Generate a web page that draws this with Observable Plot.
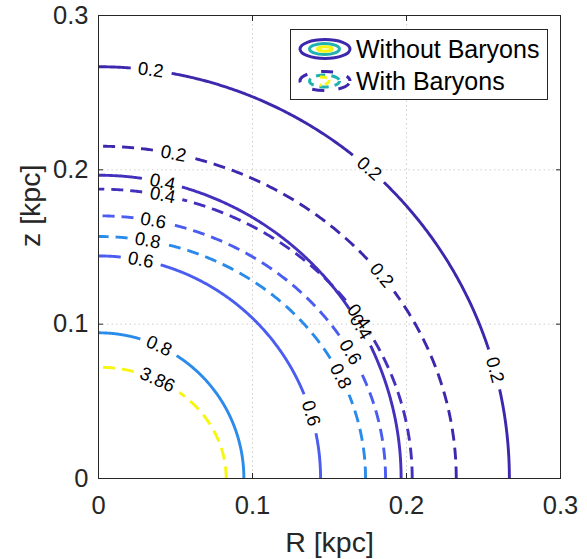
<!DOCTYPE html>
<html><head><meta charset="utf-8">
<script src="https://cdn.jsdelivr.net/npm/d3@7"></script>
<script src="https://cdn.jsdelivr.net/npm/@observablehq/plot@0.6"></script>
<style>
body{margin:0;background:#fff;font-family:"Liberation Sans",Arial,sans-serif;}
#wrap{position:relative;width:587px;height:559px;}
#legend{position:absolute;left:290px;top:29px;width:256px;height:69px;border:1px solid #262626;background:#fff;}
</style></head><body><div id="wrap"></div>
<script>
// ---- data ----
const solidLevels = ["0.2", "0.4", "0.6", "0.8"];
const solidRadius = [0.2668, 0.1965, 0.1442, 0.0944];
const solidColors = ["#3d28ad", "#4331bd", "#4a5df0", "#2b8bea"];
const solidLabelAngles = [[82.7, 48.8, 15.3], [77.8, 30], [79, 17], [65.4]];

const dashedLevels = ["0.2", "0.4", "0.6", "0.8", "3.86"];
const dashedA = [0.2323, 0.2037, 0.1864, 0.1734, 0.0829];
const dashedB = [0.2153, 0.1875, 0.1702, 0.1568, 0.0721];
const dashedColors = ["#3d28ad", "#4331bd", "#4a5df0", "#2b8bea", "#f6f610"];
const dashedLabelAngles = [[77.9, 37.7], [78.2, 34], [79, 28.7], [79.4, 25], [62.5]];

const ticks = [0, 0.1, 0.2, 0.3];
const tickLabels = ["0", "0.1", "0.2", "0.3"];
const gridTicks = [0.1, 0.2];
const xLabel = "R [kpc]";
const yLabel = "z [kpc]";
const legendLabels = ["Without Baryons", "With Baryons"];

// ---- layout ----
const W = 587, H = 559, ML = 98, MR = 27, MT = 15, MB = 81;
const kx = (W - ML - MR) / 0.3, ky = (H - MT - MB) / 0.3;
const labelSize = 18.5;

const contours = [
  ...solidLevels.map((lv, i) => ({id: "s" + i, level: lv, a: solidRadius[i], b: solidRadius[i], color: solidColors[i], dashed: false, angles: solidLabelAngles[i]})),
  ...dashedLevels.map((lv, i) => ({id: "d" + i, level: lv, a: dashedA[i], b: dashedB[i], color: dashedColors[i], dashed: true, angles: dashedLabelAngles[i]}))
];

const rad = Math.PI / 180;
const labels = [];
contours.forEach(c => {
  const tw = labelSize * (0.556 * (c.level.length - 1) + 0.278);
  c.halfGap = tw / 2 + 7;
  c.labelPts = c.angles.map(t => {
    const p = {x: c.a * Math.cos(t * rad), z: c.b * Math.sin(t * rad), text: c.level,
      rotate: Math.atan2(c.b * Math.cos(t * rad) * ky, c.a * Math.sin(t * rad) * kx) / rad};
    labels.push(p);
    return p;
  });
  const pts = [];
  let seg = 0, inGap = false;
  for (let t = 0; t <= 90.0001; t += 0.25) {
    const x = c.a * Math.cos(t * rad), z = c.b * Math.sin(t * rad);
    const gap = c.labelPts.some(l => Math.hypot((x - l.x) * kx, (z - l.z) * ky) < c.halfGap);
    if (gap) { if (!inGap) { seg++; inGap = true; } continue; }
    inGap = false;
    pts.push({x, z, seg: c.id + "-" + seg});
  }
  c.pts = pts;
});

const lineMarks = contours.map(c => Plot.line(c.pts, {
  x: "x", y: "z", z: "seg", stroke: c.color, strokeWidth: 2.9,
  strokeDasharray: c.dashed ? "12,7" : null, strokeLinecap: "butt"
}));

const fmt = d => tickLabels[ticks.indexOf(d)];
const plot = Plot.plot({
  width: W, height: H, marginLeft: ML, marginRight: MR, marginTop: MT, marginBottom: MB,
  x: {domain: [0, 0.3], label: null}, y: {domain: [0, 0.3], label: null},
  style: {fontFamily: "'Liberation Sans', Arial, sans-serif", color: "#262626", background: "white"},
  marks: [
    Plot.gridX(gridTicks, {stroke: "#cfcfcf", strokeOpacity: 1, strokeDasharray: "1.5,3"}),
    Plot.gridY(gridTicks, {stroke: "#cfcfcf", strokeOpacity: 1, strokeDasharray: "1.5,3"}),
    ...lineMarks,
    Plot.text(labels, {x: "x", y: "z", text: "text", rotate: "rotate", fontSize: labelSize, fill: "black", lineAnchor: "middle"}),
    Plot.frame({stroke: "#262626", strokeWidth: 1}),
    Plot.axisX(ticks, {anchor: "bottom", tickSize: -5, text: null, label: null, stroke: "#262626"}),
    Plot.axisX(ticks, {anchor: "top", tickSize: -5, text: null, label: null, stroke: "#262626"}),
    Plot.axisY(ticks, {anchor: "left", tickSize: -5, text: null, label: null, stroke: "#262626"}),
    Plot.axisY(ticks, {anchor: "right", tickSize: -5, text: null, label: null, stroke: "#262626"}),
    Plot.axisX(ticks, {anchor: "bottom", tickSize: 0, tickPadding: 17, tickFormat: fmt, label: null, fontSize: 25.5, fill: "#262626"}),
    Plot.axisY(ticks, {anchor: "left", tickSize: 0, tickPadding: 10, tickFormat: fmt, label: null, fontSize: 25.5, fill: "#262626"}),
    Plot.text([xLabel], {text: d => d, frameAnchor: "bottom", dy: 64, fontSize: 28.5, fill: "#262626", lineAnchor: "middle"}),
    Plot.text([yLabel], {text: d => d, frameAnchor: "left", dx: -68, rotate: -90, fontSize: 28.5, fill: "#262626", lineAnchor: "middle"})
  ]
});
const wrap = document.getElementById("wrap");
wrap.appendChild(plot);

// legend (inside the axes, top right, as in the reference)
const lg = document.createElement("div");
lg.id = "legend";
lg.innerHTML = `<svg width="256" height="69" style="display:block">
  <ellipse cx="34" cy="19" rx="25" ry="9.5" fill="none" stroke="${solidColors[0]}" stroke-width="3"/>
  <ellipse cx="33.5" cy="19" rx="15" ry="5.5" fill="none" stroke="#21b2b0" stroke-width="3"/>
  <ellipse cx="34" cy="19" rx="7.5" ry="2.2" fill="none" stroke="#f6f610" stroke-width="3"/>
  <ellipse cx="34" cy="51" rx="25" ry="9.5" fill="none" stroke="${solidColors[0]}" stroke-width="3" stroke-dasharray="12,14" stroke-dashoffset="-3"/>
  <ellipse cx="33.5" cy="51" rx="15" ry="6" fill="none" stroke="#21b2b0" stroke-width="3" stroke-dasharray="9,6" stroke-dashoffset="2"/>
  <path d="M29,47 Q39,47 38,51 Q37,55 29,55" fill="none" stroke="#f6f610" stroke-width="3" stroke-dasharray="7,3"/>
  <text x="65" y="19" dy="0.35em" font-size="25" fill="#000">${legendLabels[0]}</text>
  <text x="65" y="51" dy="0.35em" font-size="25" fill="#000">${legendLabels[1]}</text>
</svg>`;
wrap.appendChild(lg);
</script></body></html>
